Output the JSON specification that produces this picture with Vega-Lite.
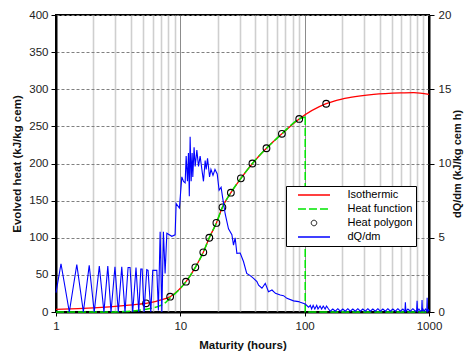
{
  "$schema": "https://vega.github.io/schema/vega-lite/v6.json",
  "width": 373,
  "height": 297,
  "autosize": {"type": "none"},
  "padding": {"left": 56, "top": 15, "right": 36, "bottom": 44},
  "background": "white",
  "config": {
    "font": "Liberation Sans",
    "view": {"stroke": "black", "strokeWidth": 2},
    "axis": {
      "labelFont": "Liberation Sans",
      "titleFont": "Liberation Sans",
      "labelFontSize": 11.5,
      "labelColor": "#222222",
      "titleFontSize": 11.5,
      "titleFontWeight": "bold",
      "titleColor": "#111111",
      "tickColor": "black",
      "domainColor": "black",
      "domainWidth": 2,
      "labelFlush": false
    }
  },
  "data": {
    "values": [
      {"s": "Isothermic", "m": 1, "v": 3.6},
      {"s": "Isothermic", "m": 1.5, "v": 4.6},
      {"s": "Isothermic", "m": 2, "v": 5.6},
      {"s": "Isothermic", "m": 2.7, "v": 7},
      {"s": "Isothermic", "m": 3.5, "v": 8.5},
      {"s": "Isothermic", "m": 4.7, "v": 10.6},
      {"s": "Isothermic", "m": 5.3, "v": 11.7},
      {"s": "Isothermic", "m": 6.0, "v": 13.3},
      {"s": "Isothermic", "m": 6.88, "v": 16},
      {"s": "Isothermic", "m": 8.28, "v": 20.6},
      {"s": "Isothermic", "m": 11.1, "v": 40.8},
      {"s": "Isothermic", "m": 13.2, "v": 60.2},
      {"s": "Isothermic", "m": 15.3, "v": 80.4},
      {"s": "Isothermic", "m": 17.1, "v": 100},
      {"s": "Isothermic", "m": 19.5, "v": 120},
      {"s": "Isothermic", "m": 21.8, "v": 141},
      {"s": "Isothermic", "m": 25.5, "v": 160.7},
      {"s": "Isothermic", "m": 30.7, "v": 180},
      {"s": "Isothermic", "m": 38, "v": 200},
      {"s": "Isothermic", "m": 49.3, "v": 220.5},
      {"s": "Isothermic", "m": 65.6, "v": 240},
      {"s": "Isothermic", "m": 90.4, "v": 260},
      {"s": "Isothermic", "m": 149, "v": 280.5},
      {"s": "Isothermic", "m": 175, "v": 284.5},
      {"s": "Isothermic", "m": 233, "v": 289},
      {"s": "Isothermic", "m": 359, "v": 293},
      {"s": "Isothermic", "m": 588, "v": 295},
      {"s": "Isothermic", "m": 754, "v": 295.4},
      {"s": "Isothermic", "m": 1000, "v": 293},

      {"s": "Heat function", "g": "curve", "m": 1, "v": 0},
      {"s": "Heat function", "g": "curve", "m": 2.7, "v": 0},
      {"s": "Heat function", "g": "curve", "m": 3.5, "v": 0.6},
      {"s": "Heat function", "g": "curve", "m": 4.5, "v": 2},
      {"s": "Heat function", "g": "curve", "m": 5.3, "v": 3.8},
      {"s": "Heat function", "g": "curve", "m": 6.0, "v": 5.5},
      {"s": "Heat function", "g": "curve", "m": 6.88, "v": 8.5},
      {"s": "Heat function", "g": "curve", "m": 7.5, "v": 12},
      {"s": "Heat function", "g": "curve", "m": 8.28, "v": 19},
      {"s": "Heat function", "g": "curve", "m": 9.5, "v": 28},
      {"s": "Heat function", "g": "curve", "m": 11.1, "v": 40.8},
      {"s": "Heat function", "g": "curve", "m": 13.2, "v": 60.2},
      {"s": "Heat function", "g": "curve", "m": 15.3, "v": 80.4},
      {"s": "Heat function", "g": "curve", "m": 17.1, "v": 100},
      {"s": "Heat function", "g": "curve", "m": 19.5, "v": 120},
      {"s": "Heat function", "g": "curve", "m": 21.8, "v": 141},
      {"s": "Heat function", "g": "curve", "m": 25.5, "v": 160.7},
      {"s": "Heat function", "g": "curve", "m": 30.7, "v": 180},
      {"s": "Heat function", "g": "curve", "m": 38, "v": 200},
      {"s": "Heat function", "g": "curve", "m": 49.3, "v": 220.5},
      {"s": "Heat function", "g": "curve", "m": 65.6, "v": 240},
      {"s": "Heat function", "g": "curve", "m": 90.4, "v": 260},
      {"s": "Heat function", "g": "curve", "m": 101, "v": 262.5},
      {"s": "Heat function", "g": "tail", "m": 101, "v": 262.5},
      {"s": "Heat function", "g": "tail", "m": 101.01, "v": 0},
      {"s": "Heat function", "g": "tail", "m": 1000, "v": 0},

      {"s": "Heat polygon", "m": 5.3, "v": 11.7},
      {"s": "Heat polygon", "m": 8.28, "v": 20.6},
      {"s": "Heat polygon", "m": 11.1, "v": 40.8},
      {"s": "Heat polygon", "m": 13.2, "v": 60.2},
      {"s": "Heat polygon", "m": 15.3, "v": 80.4},
      {"s": "Heat polygon", "m": 17.1, "v": 100},
      {"s": "Heat polygon", "m": 19.5, "v": 120},
      {"s": "Heat polygon", "m": 21.8, "v": 141},
      {"s": "Heat polygon", "m": 25.5, "v": 160.7},
      {"s": "Heat polygon", "m": 30.7, "v": 180},
      {"s": "Heat polygon", "m": 38, "v": 200},
      {"s": "Heat polygon", "m": 49.3, "v": 220.5},
      {"s": "Heat polygon", "m": 65.6, "v": 240},
      {"s": "Heat polygon", "m": 90.4, "v": 260},
      {"s": "Heat polygon", "m": 149, "v": 280.5},

      {"s": "dQ/dm", "m": 1, "v": 1.3},
      {"s": "dQ/dm", "m": 1.097, "v": 3.25},
      {"s": "dQ/dm", "m": 1.28, "v": 0},
      {"s": "dQ/dm", "m": 1.47, "v": 3.2},
      {"s": "dQ/dm", "m": 1.66, "v": 0},
      {"s": "dQ/dm", "m": 1.85, "v": 3.15},
      {"s": "dQ/dm", "m": 2.03, "v": 0},
      {"s": "dQ/dm", "m": 2.23, "v": 3.1},
      {"s": "dQ/dm", "m": 2.43, "v": 0},
      {"s": "dQ/dm", "m": 2.61, "v": 3.1},
      {"s": "dQ/dm", "m": 2.77, "v": 0},
      {"s": "dQ/dm", "m": 2.98, "v": 3.05},
      {"s": "dQ/dm", "m": 3.17, "v": 0},
      {"s": "dQ/dm", "m": 3.38, "v": 3.05},
      {"s": "dQ/dm", "m": 3.59, "v": 0},
      {"s": "dQ/dm", "m": 3.8, "v": 3.0},
      {"s": "dQ/dm", "m": 3.94, "v": 3.0},
      {"s": "dQ/dm", "m": 4.14, "v": 0},
      {"s": "dQ/dm", "m": 4.4, "v": 3.0},
      {"s": "dQ/dm", "m": 4.63, "v": 0},
      {"s": "dQ/dm", "m": 4.81, "v": 2.9},
      {"s": "dQ/dm", "m": 4.93, "v": 2.9},
      {"s": "dQ/dm", "m": 5.11, "v": 0},
      {"s": "dQ/dm", "m": 5.37, "v": 2.85},
      {"s": "dQ/dm", "m": 5.5, "v": 2.8},
      {"s": "dQ/dm", "m": 5.79, "v": 0},
      {"s": "dQ/dm", "m": 6.0, "v": 2.8},
      {"s": "dQ/dm", "m": 6.47, "v": 2.8},
      {"s": "dQ/dm", "m": 6.66, "v": 0.1},
      {"s": "dQ/dm", "m": 6.88, "v": 5.4},
      {"s": "dQ/dm", "m": 7.1, "v": 0},
      {"s": "dQ/dm", "m": 7.31, "v": 5.4},
      {"s": "dQ/dm", "m": 7.54, "v": 2.6},
      {"s": "dQ/dm", "m": 7.79, "v": 5.3},
      {"s": "dQ/dm", "m": 8.54, "v": 5.1},
      {"s": "dQ/dm", "m": 9.08, "v": 5.2},
      {"s": "dQ/dm", "m": 9.25, "v": 7.3},
      {"s": "dQ/dm", "m": 9.83, "v": 7.0},
      {"s": "dQ/dm", "m": 10.28, "v": 9.1},
      {"s": "dQ/dm", "m": 10.6, "v": 8.8},
      {"s": "dQ/dm", "m": 10.93, "v": 8.7},
      {"s": "dQ/dm", "m": 11.14, "v": 10.5},
      {"s": "dQ/dm", "m": 11.41, "v": 8.8},
      {"s": "dQ/dm", "m": 11.62, "v": 10.7},
      {"s": "dQ/dm", "m": 11.81, "v": 7.8},
      {"s": "dQ/dm", "m": 11.99, "v": 11.8},
      {"s": "dQ/dm", "m": 12.22, "v": 8.8},
      {"s": "dQ/dm", "m": 12.44, "v": 10.7},
      {"s": "dQ/dm", "m": 12.6, "v": 9.1},
      {"s": "dQ/dm", "m": 12.9, "v": 11.1},
      {"s": "dQ/dm", "m": 13.16, "v": 9.8},
      {"s": "dQ/dm", "m": 13.58, "v": 10.9},
      {"s": "dQ/dm", "m": 14.0, "v": 9.8},
      {"s": "dQ/dm", "m": 14.43, "v": 10.5},
      {"s": "dQ/dm", "m": 14.9, "v": 9.6},
      {"s": "dQ/dm", "m": 15.35, "v": 8.8},
      {"s": "dQ/dm", "m": 15.84, "v": 10.2},
      {"s": "dQ/dm", "m": 16.14, "v": 9.6},
      {"s": "dQ/dm", "m": 16.55, "v": 10.35},
      {"s": "dQ/dm", "m": 17.18, "v": 9.1},
      {"s": "dQ/dm", "m": 17.63, "v": 9.6},
      {"s": "dQ/dm", "m": 18.31, "v": 9.2},
      {"s": "dQ/dm", "m": 19.0, "v": 9.6},
      {"s": "dQ/dm", "m": 19.8, "v": 9.3},
      {"s": "dQ/dm", "m": 20.5, "v": 8.2},
      {"s": "dQ/dm", "m": 21.27, "v": 8.4},
      {"s": "dQ/dm", "m": 21.8, "v": 7.8},
      {"s": "dQ/dm", "m": 22.95, "v": 6.6},
      {"s": "dQ/dm", "m": 24.4, "v": 5.6},
      {"s": "dQ/dm", "m": 25.98, "v": 5.2},
      {"s": "dQ/dm", "m": 26.77, "v": 4.5},
      {"s": "dQ/dm", "m": 27.6, "v": 5.0},
      {"s": "dQ/dm", "m": 28.5, "v": 3.95},
      {"s": "dQ/dm", "m": 30.3, "v": 3.97},
      {"s": "dQ/dm", "m": 32.2, "v": 3.4},
      {"s": "dQ/dm", "m": 34.2, "v": 2.6},
      {"s": "dQ/dm", "m": 36.5, "v": 2.45},
      {"s": "dQ/dm", "m": 38.8, "v": 2.27},
      {"s": "dQ/dm", "m": 41.3, "v": 2.05},
      {"s": "dQ/dm", "m": 42.6, "v": 1.8},
      {"s": "dQ/dm", "m": 45.3, "v": 1.6},
      {"s": "dQ/dm", "m": 48.2, "v": 1.93},
      {"s": "dQ/dm", "m": 51.2, "v": 1.37},
      {"s": "dQ/dm", "m": 54.6, "v": 1.48},
      {"s": "dQ/dm", "m": 58.2, "v": 1.26},
      {"s": "dQ/dm", "m": 63.6, "v": 1.14},
      {"s": "dQ/dm", "m": 67.6, "v": 1.1},
      {"s": "dQ/dm", "m": 72, "v": 0.92},
      {"s": "dQ/dm", "m": 81.4, "v": 0.75},
      {"s": "dQ/dm", "m": 89.3, "v": 0.7},
      {"s": "dQ/dm", "m": 92.2, "v": 0.65},
      {"s": "dQ/dm", "m": 101, "v": 0.54},
      {"s": "dQ/dm", "m": 107.5, "v": 0.32},
      {"s": "dQ/dm", "m": 111, "v": 0.45},
      {"s": "dQ/dm", "m": 113.8, "v": 0.2},
      {"s": "dQ/dm", "m": 117, "v": 0.45},
      {"s": "dQ/dm", "m": 120.7, "v": 0.2},
      {"s": "dQ/dm", "m": 125, "v": 0.45},
      {"s": "dQ/dm", "m": 128, "v": 0.2},
      {"s": "dQ/dm", "m": 133, "v": 0.4},
      {"s": "dQ/dm", "m": 137, "v": 0.2},
      {"s": "dQ/dm", "m": 141, "v": 0.4},
      {"s": "dQ/dm", "m": 146, "v": 0.2},
      {"s": "dQ/dm", "m": 150, "v": 0.4},
      {"s": "dQ/dm", "m": 155.6, "v": 0.2},
      {"s": "dQ/dm", "m": 160.7, "v": 0.05},
      {"s": "dQ/dm", "m": 168.4, "v": 0.2},
      {"s": "dQ/dm", "m": 176.4, "v": 0.05},
      {"s": "dQ/dm", "m": 184.7, "v": 0.22},
      {"s": "dQ/dm", "m": 193.5, "v": 0.05},
      {"s": "dQ/dm", "m": 202.7, "v": 0.2},
      {"s": "dQ/dm", "m": 212.3, "v": 0.05},
      {"s": "dQ/dm", "m": 222.3, "v": 0.22},
      {"s": "dQ/dm", "m": 232.9, "v": 0.05},
      {"s": "dQ/dm", "m": 244, "v": 0.2},
      {"s": "dQ/dm", "m": 255.5, "v": 0.05},
      {"s": "dQ/dm", "m": 267.6, "v": 0.22},
      {"s": "dQ/dm", "m": 280.4, "v": 0.05},
      {"s": "dQ/dm", "m": 293.7, "v": 0.2},
      {"s": "dQ/dm", "m": 307.6, "v": 0.05},
      {"s": "dQ/dm", "m": 322.2, "v": 0.22},
      {"s": "dQ/dm", "m": 337.5, "v": 0.05},
      {"s": "dQ/dm", "m": 353.5, "v": 0.2},
      {"s": "dQ/dm", "m": 370.2, "v": 0.05},
      {"s": "dQ/dm", "m": 387.9, "v": 0.22},
      {"s": "dQ/dm", "m": 406.2, "v": 0.05},
      {"s": "dQ/dm", "m": 425.5, "v": 0.2},
      {"s": "dQ/dm", "m": 445.7, "v": 0.05},
      {"s": "dQ/dm", "m": 466.8, "v": 0.22},
      {"s": "dQ/dm", "m": 488.9, "v": 0.05},
      {"s": "dQ/dm", "m": 512.1, "v": 0.2},
      {"s": "dQ/dm", "m": 536.4, "v": 0.05},
      {"s": "dQ/dm", "m": 561.8, "v": 0.22},
      {"s": "dQ/dm", "m": 588.5, "v": 0.05},
      {"s": "dQ/dm", "m": 616.5, "v": 0.2},
      {"s": "dQ/dm", "m": 640, "v": 0.05},
      {"s": "dQ/dm", "m": 645.7, "v": 0.65},
      {"s": "dQ/dm", "m": 652, "v": 0.05},
      {"s": "dQ/dm", "m": 676.3, "v": 0.2},
      {"s": "dQ/dm", "m": 708.5, "v": 0.05},
      {"s": "dQ/dm", "m": 742.1, "v": 0.22},
      {"s": "dQ/dm", "m": 777.3, "v": 0.05},
      {"s": "dQ/dm", "m": 795, "v": 0.1},
      {"s": "dQ/dm", "m": 802, "v": 0.76},
      {"s": "dQ/dm", "m": 809, "v": 0.05},
      {"s": "dQ/dm", "m": 830, "v": 0.2},
      {"s": "dQ/dm", "m": 852.9, "v": 0.05},
      {"s": "dQ/dm", "m": 873, "v": 0.1},
      {"s": "dQ/dm", "m": 879, "v": 0.8},
      {"s": "dQ/dm", "m": 886, "v": 0.05},
      {"s": "dQ/dm", "m": 893.4, "v": 0.2},
      {"s": "dQ/dm", "m": 915, "v": 0.05},
      {"s": "dQ/dm", "m": 935.8, "v": 0.2},
      {"s": "dQ/dm", "m": 960, "v": 0.05},
      {"s": "dQ/dm", "m": 966, "v": 0.96},
      {"s": "dQ/dm", "m": 972, "v": 0.05},
      {"s": "dQ/dm", "m": 990, "v": 0.15},
      {"s": "dQ/dm", "m": 1000, "v": 0.05}
    ]
  },
  "encoding": {
    "x": {
      "field": "m",
      "type": "quantitative",
      "scale": {"type": "log", "domain": [1, 1000], "nice": false},
      "axis": {
        "values": [1, 2, 3, 4, 5, 6, 7, 8, 9, 10, 20, 30, 40, 50, 60, 70, 80, 90, 100, 200, 300, 400, 500, 600, 700, 800, 900, 1000],
        "grid": true,
        "gridColor": {"condition": {"test": "datum.value == 1 || datum.value == 10 || datum.value == 100 || datum.value == 1000", "value": "#8c8c8c"}, "value": "#cfcfcf"},
        "gridWidth": {"condition": {"test": "datum.value == 1 || datum.value == 10 || datum.value == 100 || datum.value == 1000", "value": 1}, "value": 1.6},
        "tickOpacity": {"condition": {"test": "datum.value == 1 || datum.value == 10 || datum.value == 100 || datum.value == 1000", "value": 1}, "value": 0},
        "tickSize": 4,
        "tickWidth": 1,
        "labelExpr": "(datum.value == 1 || datum.value == 10 || datum.value == 100 || datum.value == 1000) ? '' + datum.value : ''",
        "labelOverlap": false,
        "labelFlush": false,
        "labelPadding": 4,
        "title": "Maturity (hours)",
        "titlePadding": 8
      }
    },
    "color": {
      "field": "s",
      "type": "nominal",
      "scale": {
        "domain": ["Isothermic", "Heat function", "Heat polygon", "dQ/dm"],
        "range": ["#ff0000", "#00e600", "#000000", "#0000ff"]
      },
      "legend": {
        "title": null,
        "orient": "none",
        "legendX": 230,
        "legendY": 171,
        "direction": "vertical",
        "strokeColor": "black",
        "fillColor": "white",
        "padding": 3.5,
        "labelFont": "Liberation Sans",
        "labelFontSize": 11,
        "labelColor": "black",
        "labelOffset": 28,
        "rowPadding": 2,
        "symbolOffset": 19,
        "symbolStrokeWidth": 1.5,
        "encode": {
          "symbols": {
            "update": {
              "shape": {"signal": "datum.value === 'Heat polygon' ? 'circle' : 'M-3.56,0H3.56'"},
              "size": {"signal": "datum.value === 'Heat polygon' ? 30 : 81"},
              "strokeDash": {"signal": "datum.value === 'Heat function' ? [8, 3] : [1, 0]"},
              "fill": {"value": "transparent"},
              "stroke": {"signal": "scale('color', datum.value)"},
              "strokeWidth": {"signal": "datum.value === 'Heat polygon' ? 1 : 1.5"}
            }
          }
        }
      }
    }
  },
  "layer": [
    {
      "encoding": {
        "y": {
          "field": "v",
          "type": "quantitative",
          "scale": {"domain": [0, 400], "nice": false},
          "axis": {
            "values": [0, 50, 100, 150, 200, 250, 300, 350, 400],
            "grid": true,
            "gridColor": "#808080",
            "gridDash": [3, 2],
            "gridWidth": 1,
            "tickSize": 5,
            "tickWidth": 1,
            "labelPadding": 3,
            "title": "Evolved heat (kJ/kg cem)",
            "titlePadding": 6
          }
        }
      },
      "layer": [
        {
          "transform": [{"filter": "datum.s === 'Isothermic'"}],
          "mark": {"type": "line", "interpolate": "monotone", "strokeWidth": 1.3}
        },
        {
          "transform": [{"filter": "datum.s === 'Heat function' && datum.g === 'curve'"}],
          "mark": {"type": "line", "interpolate": "monotone", "strokeWidth": 1.5, "strokeDash": [8, 3]}
        },
        {
          "transform": [{"filter": "datum.s === 'Heat function' && datum.g === 'tail'"}],
          "mark": {"type": "line", "interpolate": "linear", "strokeWidth": 1.5, "strokeDash": [8, 3]}
        },
        {
          "transform": [{"filter": "datum.s === 'Heat polygon'"}],
          "mark": {"type": "point", "shape": "circle", "filled": false, "size": 45, "strokeWidth": 1.1, "opacity": 1}
        }
      ]
    },
    {
      "transform": [{"filter": "datum.s === 'dQ/dm'"}],
      "mark": {"type": "line", "interpolate": "linear", "strokeWidth": 1.1},
      "encoding": {
        "y": {
          "field": "v",
          "type": "quantitative",
          "scale": {"domain": [0, 20], "nice": false},
          "axis": {
            "orient": "right",
            "values": [0, 5, 10, 15, 20],
            "grid": false,
            "tickSize": 5,
            "tickWidth": 1,
            "labelPadding": 4,
            "title": "dQ/dm (kJ/kg cem h)",
            "titleFontSize": 11,
            "titleAngle": 270,
            "titleBaseline": "top",
            "titlePadding": 1
          }
        }
      }
    }
  ],
  "resolve": {"scale": {"y": "independent"}}
}
